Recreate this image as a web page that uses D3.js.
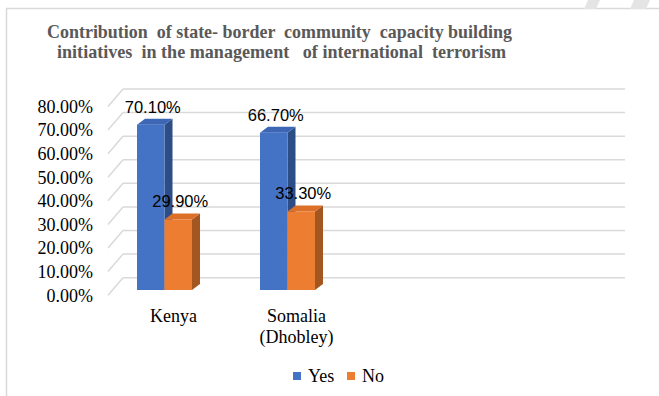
<!DOCTYPE html>
<html><head><meta charset="utf-8">
<script src="https://cdn.jsdelivr.net/npm/d3@7"></script>
<style>html,body{margin:0;padding:0;background:#fff;}svg{display:block;}</style>
</head><body>
<script>
const categories = ["Kenya", "Somalia (Dhobley)"];
const categoryLines = [["Kenya"], ["Somalia", "(Dhobley)"]];
const series = ["Yes", "No"];
const yesValues = [0.701, 0.667];
const noValues = [0.299, 0.333];
const tickValues = [0, 0.1, 0.2, 0.3, 0.4, 0.5, 0.6, 0.7, 0.8];
const titleLines = ["Contribution  of state- border  community  capacity building",
                    "initiatives  in the management   of international  terrorism"];

const W = 659, H = 396;
const svg = d3.select("body").append("svg").attr("width", W).attr("height", H);

// frame
svg.append("line").attr("x1", 6.5).attr("y1", 8.5).attr("x2", 6.5).attr("y2", H).attr("stroke", "#d9d9d9").attr("stroke-width", 1.5);
svg.append("line").attr("x1", 6).attr("y1", 8.5).attr("x2", W).attr("y2", 8.5).attr("stroke", "#d9d9d9").attr("stroke-width", 1.5);
// faint button remnants top-right
svg.append("path").attr("d", "M588,0 L600,0 L596,9 L584,9 Z").attr("fill", "#e4e4e4");
svg.append("path").attr("d", "M634,0 L650,0 L646,9 L630,9 Z").attr("fill", "#e4e4e4");

// title
const titleG = svg.append("g");
const titleSpec = [{x: 279.5, y: 38, len: 465}, {x: 281.5, y: 58, len: 449}];
titleLines.forEach((t, i) => {
  titleG.append("text").attr("x", titleSpec[i].x).attr("y", titleSpec[i].y)
    .attr("text-anchor", "middle")
    .attr("font-family", "'Liberation Serif', 'Times New Roman', serif")
    .attr("font-weight", "bold").attr("font-size", 19).attr("fill", "#595959")
    .attr("textLength", titleSpec[i].len).attr("lengthAdjust", "spacingAndGlyphs")
    .style("white-space", "pre").text(t);
});

// scales
const yBack = d3.scaleLinear().domain([0, 0.8]).range([277.7, 89]);
const sideDX = 15, sideDY = 17.5;     // side wall depth (back -> front)
const barFrontOff = 12.3;             // bar front plane below back wall
const x = d3.scaleBand().domain(categories).range([103, 349]).paddingInner(0.553).paddingOuter(0.2765);
const xs = d3.scaleBand().domain(series).range([0, x.bandwidth()]);
const yBar = v => yBack(v) + barFrontOff;
const dX = 8, dY = -6;

// back wall grid
const wallLeft = 123, wallRight = 625;
svg.append("g").selectAll("line").data(tickValues).join("line")
  .attr("x1", wallLeft).attr("x2", wallRight)
  .attr("y1", d => yBack(d)).attr("y2", d => yBack(d))
  .attr("stroke", "#d9d9d9").attr("stroke-width", 1.5);
// side wall grid
svg.append("g").selectAll("line").data(tickValues).join("line")
  .attr("x1", wallLeft - sideDX).attr("y1", d => yBack(d) + sideDY)
  .attr("x2", wallLeft).attr("y2", d => yBack(d))
  .attr("stroke", "#d9d9d9").attr("stroke-width", 1.5);

// y tick labels
svg.append("g").selectAll("text").data(tickValues).join("text")
  .attr("x", 93).attr("y", d => yBack(d) + sideDY).attr("dy", "0.35em")
  .attr("text-anchor", "end")
  .attr("font-family", "'Liberation Serif', 'Times New Roman', serif")
  .attr("font-size", 18).attr("fill", "#000")
  .text(d => d3.format(".2%")(d));

// bars
const colors = {
  Yes: {front: "#4472C4", top: "#3d67b4", side: "#2c4d86"},
  No:  {front: "#ED7D31", top: "#dc7029", side: "#a3561f"}
};
const barData = [];
categories.forEach((c, i) => {
  barData.push({cat: c, s: "Yes", v: yesValues[i]});
  barData.push({cat: c, s: "No", v: noValues[i]});
});
const barsG = svg.append("g");
barData.forEach(d => {
  const x0 = x(d.cat) + xs(d.s), w = xs.bandwidth();
  const yt = yBar(d.v), yb = yBar(0);
  const c = colors[d.s];
  const g = barsG.append("g");
  g.append("polygon").attr("points", [[x0 + w, yt], [x0 + w + dX, yt + dY], [x0 + w + dX, yb + dY], [x0 + w, yb]].join(" ")).attr("fill", c.side);
  g.append("polygon").attr("points", [[x0, yt], [x0 + w, yt], [x0 + w + dX, yt + dY], [x0 + dX, yt + dY]].join(" ")).attr("fill", c.top);
  g.append("rect").attr("x", x0).attr("y", yt).attr("width", w).attr("height", yb - yt).attr("fill", c.front);
});

// data labels
svg.append("g").selectAll("text").data(barData).join("text")
  .attr("x", d => x(d.cat) + xs(d.s) + xs.bandwidth() / 2 + 2)
  .attr("y", d => yBar(d.v) - 12)
  .attr("text-anchor", "middle")
  .attr("font-family", "'Liberation Sans', Arial, sans-serif")
  .attr("font-size", 16.5).attr("fill", "#000")
  .text(d => d3.format(".2%")(d.v));

// category labels
const catG = svg.append("g");
categories.forEach((c, i) => {
  categoryLines[i].forEach((ln, j) => {
    catG.append("text").attr("x", x(c) + x.bandwidth() / 2 + 9).attr("y", 322 + j * 21)
      .attr("text-anchor", "middle")
      .attr("font-family", "'Liberation Serif', 'Times New Roman', serif")
      .attr("font-size", 18).attr("fill", "#000").text(ln);
  });
});

// legend
const legendX = [293, 347];
const legG = svg.append("g");
series.forEach((s, i) => {
  legG.append("rect").attr("x", legendX[i]).attr("y", 372).attr("width", 8).attr("height", 8).attr("fill", colors[s].front);
  legG.append("text").attr("x", legendX[i] + 15).attr("y", 382)
    .attr("font-family", "'Liberation Serif', 'Times New Roman', serif")
    .attr("font-size", 18).attr("fill", "#000").text(s);
});
</script>
</body></html>
